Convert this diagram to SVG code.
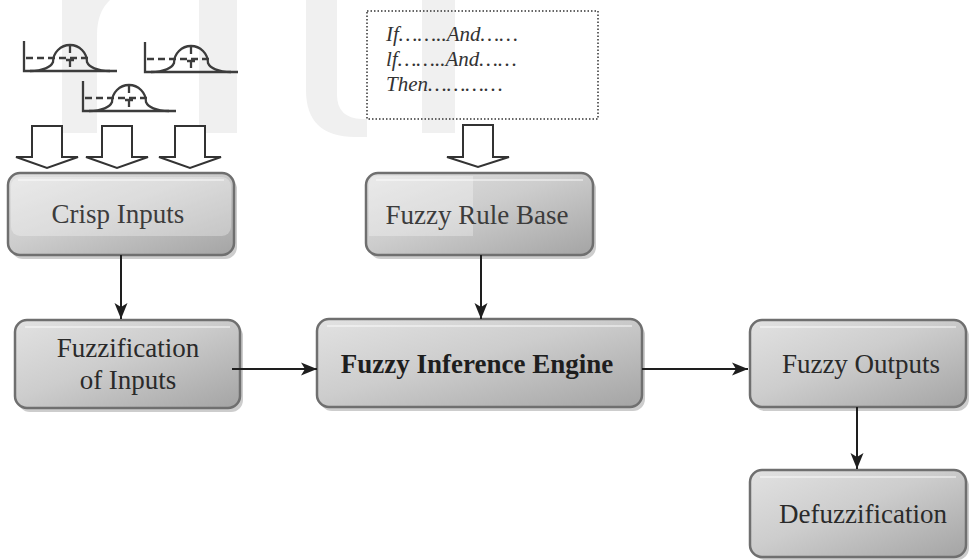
<svg xmlns="http://www.w3.org/2000/svg" width="969" height="560" viewBox="0 0 969 560">
<defs>
<style>
.wm{fill:#f0f0f0;stroke:none}
.mf{fill:none;stroke:#3c3c3c;stroke-width:2.3}
.mfd{fill:none;stroke:#3c3c3c;stroke-width:2.3;stroke-dasharray:7 4}
.barrow{fill:#ffffff;stroke:#333333;stroke-width:2;stroke-linejoin:miter}
.shadow{fill:#cdcdcd}
.box{fill:url(#gbox);stroke:#6f6f6f;stroke-width:2.5}
.gloss{fill:#ffffff;opacity:0.3}
.hl{fill:none;stroke:#ffffff;stroke-width:1.5;opacity:0.6}
.lbl{font-family:"Liberation Serif","Times New Roman",serif;font-size:27px;text-anchor:middle;fill:#2a2a2a}
.lbl2{font-family:"Liberation Serif","Times New Roman",serif;font-size:27px;text-anchor:middle;fill:#3c3c3c}
.bold{font-weight:bold;fill:#1e1e1e}
.rule{font-family:"Liberation Serif","Times New Roman",serif;font-size:21px;font-style:italic;fill:#333333}
.conn{fill:none;stroke:#1e1e1e;stroke-width:2}
</style>
<linearGradient id="gbox" x1="0" y1="0" x2="1" y2="1">
<stop offset="0" stop-color="#e2e2e2"/>
<stop offset="0.45" stop-color="#cdcdcd"/>
<stop offset="1" stop-color="#a4a4a4"/>
</linearGradient>
<marker id="ah" markerUnits="userSpaceOnUse" markerWidth="18" markerHeight="14" refX="16" refY="7" orient="auto">
<path d="M0,0.5 L16,7 L0,13.5 L4,7 Z" fill="#1e1e1e"/>
</marker>
<g id="mficon">
<path class="mf" d="M0,-30 V0 H93"/>
<path class="mf" d="M6,0 C19,0 27,-4 29,-9 A17,17 0 0 1 63,-9 C65,-4 73,0 86,0"/>
<path class="mfd" d="M2,-13 H68"/>
<path class="mf" d="M46,-25 V-18 M42,-11 H50 M46,-11 V-4"/>
</g>
</defs>

<g id="watermark">
<path class="wm" d="M62,0 H110 Q97,12 97,35 V133 H62 Z"/>
<rect class="wm" x="199" y="0" width="38" height="133"/>
<path class="wm" d="M306,0 H337 V95 Q337,118 362,119 H367 V137 H355 Q306,137 306,90 Z"/>
<rect class="wm" x="422" y="0" width="33" height="133"/>
</g>

<g id="membership-functions">
<use href="#mficon" x="24" y="71"/>
<use href="#mficon" x="145" y="72"/>
<use href="#mficon" x="83" y="111"/>
</g>

<g id="input-arrows">
<path class="barrow" d="M32,126 H62 V157 H78 L47,168 L16,157 H32 Z"/>
<path class="barrow" d="M102,126 H132 V157 H148 L117,168 L86,157 H102 Z"/>
<path class="barrow" d="M175,126 H205 V157 H221 L190,168 L159,157 H175 Z"/>
</g>

<g id="rules">
<rect x="367" y="11" width="231" height="108" fill="none" stroke="#333333" stroke-width="1.5" stroke-dasharray="1.5 2"/>
<text class="rule" x="386" y="41">If……..And……</text>
<text class="rule" x="386" y="66">lf……..And……</text>
<text class="rule" x="386" y="91">Then…………</text>
<path class="barrow" d="M463,125 H493 V157 H509 L478,167 L447,157 H463 Z"/>
</g>

<g id="crisp-inputs">
<rect class="shadow" x="11" y="177" width="226" height="82" rx="12"/>
<rect class="box" x="8" y="173" width="226" height="82" rx="12"/>
<rect class="gloss" x="11" y="177" width="220" height="59" rx="9"/>
<path class="hl" d="M18,180 H224"/>
<text class="lbl2" x="118" y="223">Crisp Inputs</text>
</g>

<g id="fuzzy-rule-base">
<rect class="shadow" x="369" y="177" width="227" height="82" rx="12"/>
<rect class="box" x="366" y="173" width="227" height="82" rx="12"/>
<path class="gloss" d="M378,176 H473 V236 H369 V185 Q369,176 378,176 Z"/>
<path class="hl" d="M376,180 H583"/>
<text class="lbl2" x="477" y="224">Fuzzy Rule Base</text>
</g>

<g id="fuzzification">
<rect class="shadow" x="18" y="324" width="225" height="88" rx="12"/>
<rect class="box" x="15" y="320" width="225" height="88" rx="12"/>
<path class="hl" d="M25,327 H230"/>
<text class="lbl" x="128" y="357">Fuzzification</text>
<text class="lbl" x="128" y="389">of Inputs</text>
</g>

<g id="fuzzy-inference-engine">
<rect class="shadow" x="320" y="323" width="325" height="88" rx="12"/>
<rect class="box" x="317" y="319" width="325" height="88" rx="12"/>
<path class="hl" d="M327,326 H632"/>
<text class="lbl bold" x="477" y="373">Fuzzy Inference Engine</text>
</g>

<g id="fuzzy-outputs">
<rect class="shadow" x="753" y="324" width="216" height="87" rx="12"/>
<rect class="box" x="750" y="320" width="216" height="87" rx="12"/>
<path class="hl" d="M760,327 H956"/>
<text class="lbl" x="861" y="373">Fuzzy Outputs</text>
</g>

<g id="defuzzification">
<rect class="shadow" x="753" y="474" width="216" height="86" rx="12"/>
<rect class="box" x="750" y="470" width="216" height="87" rx="12"/>
<path class="hl" d="M760,477 H956"/>
<text class="lbl" x="863" y="523">Defuzzification</text>
</g>

<g id="connectors">
<path class="conn" d="M121,255 V319" marker-end="url(#ah)"/>
<path class="conn" d="M481,255 V319" marker-end="url(#ah)"/>
<path class="conn" d="M232,369 H317" marker-end="url(#ah)"/>
<path class="conn" d="M642,369 H748" marker-end="url(#ah)"/>
<path class="conn" d="M857,407 V469" marker-end="url(#ah)"/>
</g>
</svg>
